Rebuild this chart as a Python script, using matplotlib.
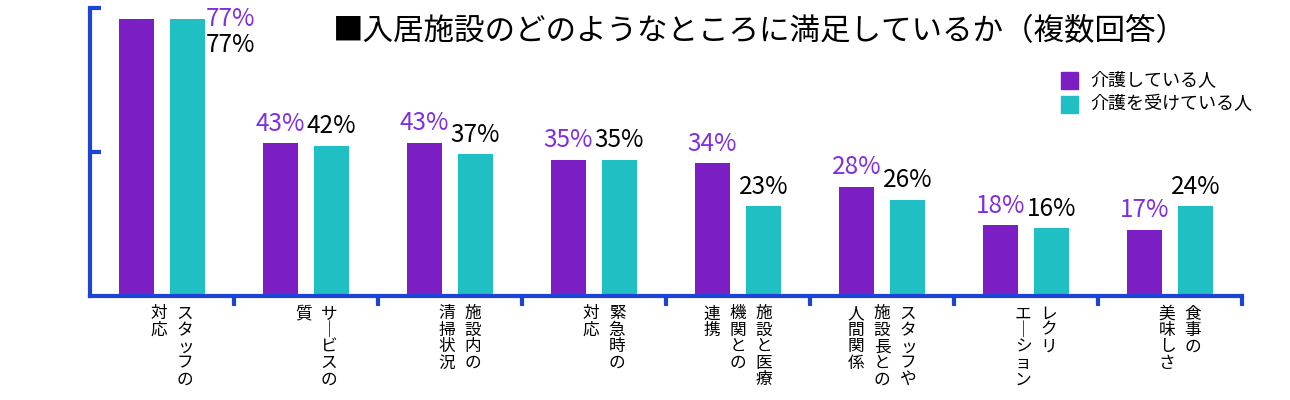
import matplotlib
matplotlib.use("Agg")
import matplotlib.pyplot as plt
import numpy as np

plt.rcParams['font.family'] = ['Noto Sans CJK JP', 'DejaVu Sans']

# data
categories  = [["スタッフの", "対応"],
               ["サ｜ビスの", "質"],
               ["施設内の", "清掃状況"],
               ["緊急時の", "対応"],
               ["施設と医療", "機関との", "連携"],
               ["スタッフや", "施設長との", "人間関係"],
               ["レクリ", "エ｜ション"],
               ["食事の", "美味しさ"]]
# printed percentages
carer       = [77, 43, 43, 35, 34, 28, 18, 17]
cared       = [77, 42, 37, 35, 23, 26, 16, 24]
# bar heights as drawn in the picture (they do not follow the labels exactly)
carerBar    = [76.9, 42.5, 42.6, 37.8, 36.9, 30.4, 19.6, 18.4]
caredBar    = [76.9, 41.8, 39.4, 37.8, 25.0, 26.7, 18.8, 24.9]
seriesNames = ["介護している人", "介護を受けている人"]
title       = "■入居施設のどのようなところに満足しているか（複数回答）"

colPurple = "#7B1FC4"
colTeal   = "#1FBFC4"
colText   = "#7E2FE0"
colAxis   = "#1C44D6"

fig = plt.figure(figsize=(12.9, 4.0), dpi=100)
ax  = fig.add_axes([90/1290, 104/400, 1152/1290, 288/400])

x  = np.arange(len(carer))
bw = 0.243
off = 0.177
ax.bar(x - off, carerBar, bw, color=colPurple)
ax.bar(x + off, caredBar, bw, color=colTeal)

ax.set_xlim(-0.5, len(carer) - 0.5)
ax.set_ylim(0, 80)

# value labels
for i in range(len(carer)):
    if i == 0:
        ax.text(i + off + 0.13, carerBar[i], f"{carer[i]}%", color=colText, fontsize=17.5, ha='left', va='center')
        ax.text(i + off + 0.13, caredBar[i] - 7.3, f"{cared[i]}%", color='black', fontsize=17.5, ha='left', va='center')
    else:
        ax.text(i - off, carerBar[i] + 1.8, f"{carer[i]}%", color=colText, fontsize=17.5, ha='center', va='bottom')
        ax.text(i + off, caredBar[i] + 1.8, f"{cared[i]}%", color='black', fontsize=17.5, ha='center', va='bottom')

# vertical category labels, columns right to left
for i, cols in enumerate(categories):
    n = len(cols)
    start = 0.16 if n == 2 else 0.18
    for k, col in enumerate(cols):
        xc = i + start - k * 0.18
        ax.text(xc, -2.6, "\n".join(col), fontsize=12, ha='center', va='top',
                linespacing=0.96)

# spines and ticks
for s in ['top', 'right']:
    ax.spines[s].set_visible(False)
for s in ['left', 'bottom']:
    ax.spines[s].set_color(colAxis)
    ax.spines[s].set_linewidth(3)
ax.set_yticks([40, 80])
ax.set_yticklabels([])
ax.tick_params(axis='y', direction='in', length=8, width=3, color=colAxis)
ax.set_xticks(np.arange(0.5, len(carer) - 0.4, 1))
ax.set_xticklabels([])
ax.tick_params(axis='x', direction='out', length=7, width=3, color=colAxis)

fig.text(333/1290, 1 - 32/400, title, fontsize=22, ha='left', va='center')

# legend
for j, (name, c) in enumerate(zip(seriesNames, [colPurple, colTeal])):
    yy = 1 - (80 + j * 24) / 400
    fig.patches.append(plt.Rectangle((1061/1290, yy - 8.5/400), 17/1290, 17/400,
                                     transform=fig.transFigure, color=c))
    fig.text(1090/1290, yy, name, fontsize=13, ha='left', va='center')

fig.savefig("out.png", dpi=100)
